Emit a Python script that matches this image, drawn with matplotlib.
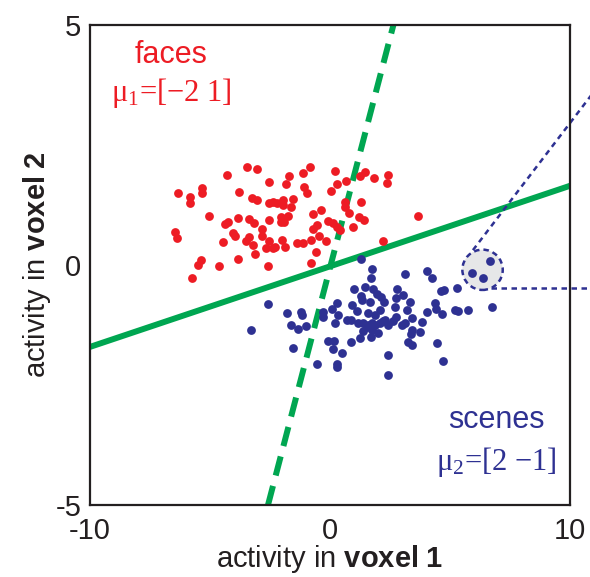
#!/usr/bin/env python

""" Two voxel-activity clusters (faces / scenes) with two candidate
decision boundaries and a projection sketch for one group of points. """

import matplotlib
matplotlib.use("Agg")
import matplotlib.pyplot as plt
from matplotlib.patches import Ellipse


# Faces (red)
faces_x = [-3.43, -3.03, -4.28, -2.54, -5.31, -5.31, -6.32, -5.81, -5.83, -3.79,
           -3.24, -3.02, -2.53, -2.35, -5.01, -4.36, -4.22, -3.81, -3.35, -3.14,
           -2.53, -6.45, -6.35, -4.04, -3.95, -2.82, -2.82, -3.35, -3.50, -4.46,
           -3.18, -2.52, -2.65, -2.35, -3.10, -5.35, -5.50, -3.81, -4.61, -2.58,
           -5.75, -0.81, -1.10, -1.71, 0.23, 1.47, 1.26, 1.84, 2.41, 2.37,
           -1.84, 0.29, 0.69, -1.06, -0.96, 0.05, -2.21, -1.96, -1.94, -1.52,
           -1.60, 0.65, 0.62, 1.30, -0.37, -0.69, 0.80, 1.20, 1.41, 3.66,
           -2.03, -1.75, -2.03, -1.89, -0.06, 0.15, 0.29, 0.42, -0.53, -0.69,
           0.95, -0.44, -0.17, -0.78, -1.10, -1.38, -2.00, -1.86, -2.28, -0.56,
           -0.78, 2.21]
faces_y = [2.04, 1.99, 1.87, 1.72, 1.60, 1.49, 1.50, 1.41, 1.29, 1.53,
           1.40, 1.35, 1.30, 1.32, 1.02, 0.85, 0.90, 0.97, 0.96, 0.88,
           0.94, 0.69, 0.56, 0.66, 0.60, 0.74, 0.60, 0.58, 0.49, 0.47,
           0.42, 0.49, 0.35, 0.35, 0.22, 0.10, -0.01, 0.12, -0.03, -0.03,
           -0.27, 2.04, 1.92, 1.86, 1.96, 1.93, 1.85, 1.81, 1.88, 1.70,
           1.69, 1.69, 1.74, 1.63, 1.49, 1.54, 1.29, 1.35, 1.25, 1.38,
           1.21, 1.32, 1.21, 1.32, 1.15, 1.06, 1.08, 1.00, 0.93, 1.03,
           1.01, 1.03, 0.90, 0.89, 0.92, 0.87, 0.80, 0.73, 0.83, 0.76,
           0.79, 0.60, 0.51, 0.52, 0.46, 0.45, 0.52, 0.38, 0.38, 0.28,
           0.04, 0.51]

# Scenes (blue)
scenes_x = [1.30, 1.74, 3.15, 4.03, 1.71, 1.01, 1.47, 1.81, 1.95, 1.30,
            1.34, 1.67, 0.31, -2.58, 0.94, 1.12, 1.58, 1.88, 0.08, -0.27,
            -0.27, 0.35, -1.20, -1.17, -1.79, 0.70, 0.88, 1.16, 1.39, 1.60,
            1.88, 0.22, -1.63, -0.99, -1.31, -3.29, 1.39, 1.74, 1.99, 1.26,
            1.71, -0.06, 0.17, 0.87, 0.15, 0.50, -1.54, -0.55, 0.31, 0.31,
            4.24, 2.13, 2.81, 2.75, 3.06, 2.27, 3.34, 4.63, 4.75, 5.28,
            5.91, 6.39, 6.67, 4.38, 4.41, 4.06, 4.68, 5.21, 5.35, 5.76,
            6.74, 2.09, 2.70, 3.23, 2.75, 2.64, 3.43, 2.30, 2.09, 2.43,
            2.99, 3.13, 3.82, 3.41, 3.37, 3.75, 3.27, 3.41, 4.45, 2.41,
            4.72, 2.41, 1.74, 1.54, 2.21]
scenes_y = [0.13, -0.09, -0.19, -0.12, -0.28, -0.50, -0.45, -0.51, -0.61, -0.64,
            -0.73, -0.78, -0.80, -0.82, -0.83, -0.96, -0.99, -1.04, -0.92, -0.97,
            -1.09, -1.04, -0.97, -1.04, -1.01, -1.15, -1.15, -1.21, -1.21, -1.24,
            -1.25, -1.21, -1.25, -1.27, -1.33, -1.35, -1.38, -1.35, -1.42, -1.53,
            -1.51, -1.58, -1.58, -1.61, -1.75, -1.84, -1.72, -2.06, -2.06, -2.12,
            -0.28, -0.66, -0.49, -0.68, -0.63, -0.78, -0.78, -0.54, -0.52, -0.47,
            -0.17, -0.28, 0.09, -0.80, -0.92, -0.97, -1.03, -0.94, -0.96, -0.94,
            -0.87, -0.94, -0.88, -0.94, -1.08, -1.17, -1.11, -1.15, -1.21, -1.26,
            -1.24, -1.21, -1.19, -1.35, -1.44, -1.39, -1.60, -1.67, -1.63, -1.88,
            -2.01, -2.29, -1.21, -1.29, -1.17]

# Decision boundaries (end points in data units)
solid_x = [-10, 10]
solid_y = [-1.71, 1.65]
dashed_x = [-2.57, 2.65]
dashed_y = [-5, 5]

# Highlighted group and its projection lines
circle_xy = (6.36, -0.10)
proj_x = [5.96, 11.5]
proj_y = [0.31, 3.94]
horiz_x = [6.7, 11.5]
horiz_y = [-0.485, -0.485]

RED = "#ED1C24"
BLUE = "#2E3192"
GREEN = "#00A651"
INK = "#231F20"


plt.rcParams['font.family'] = ['Liberation Sans', 'DejaVu Sans']
plt.rcParams['mathtext.fontset'] = 'custom'
plt.rcParams['mathtext.rm'] = 'Liberation Serif'
plt.rcParams['mathtext.it'] = 'Liberation Serif'
plt.rcParams['mathtext.bf'] = 'Liberation Sans:bold'

fig = plt.figure(figsize=(5.9, 5.77), dpi=100)
ax = fig.add_axes([0.1517, 0.1248, 0.8144, 0.8319])

ax.scatter(faces_x, faces_y, s=40, color=RED, linewidths=0, zorder=3)
ax.scatter(scenes_x, scenes_y, s=40, color=BLUE, linewidths=0, zorder=3)

ax.plot(solid_x, solid_y, color=GREEN, lw=4.3, solid_capstyle='butt', zorder=2)
ax.plot(dashed_x, dashed_y, color=GREEN, lw=4.3, dashes=(3.3, 1.8), zorder=2)

# grey circle round the three points + dotted projection lines
circ = Ellipse(circle_xy, width=1.68, height=0.84, facecolor="#E6E7E8",
               edgecolor=BLUE, lw=1.8, linestyle=(0, (2.2, 1.6)), zorder=2.5)
ax.add_patch(circ)
ax.plot(proj_x, proj_y, color=BLUE, lw=1.8, dashes=(2.2, 1.8), clip_on=False, zorder=2)
ax.plot(horiz_x, horiz_y, color=BLUE, lw=1.8, dashes=(2.2, 1.8), clip_on=False, zorder=2)

ax.set_xlim(-10, 10)
ax.set_ylim(-5, 5)
ax.set_xticks([-10, 0, 10])
ax.set_xticklabels(['-10', '0', '10'])
ax.set_yticks([-5, 0, 5])
ax.set_yticklabels(['-5', '0', '5'])
ax.tick_params(length=0, labelsize=21, colors=INK)
ax.tick_params(axis='x', pad=9)
ax.tick_params(axis='y', pad=6)
for sp in ax.spines.values():
    sp.set_color(INK)
    sp.set_linewidth(1.6)

ax.set_xlabel(r"activity in $\mathbf{voxel\ 1}$", fontsize=21, color=INK, labelpad=-2)
ax.set_ylabel(r"activity in $\mathbf{voxel\ 2}$", fontsize=21, color=INK, labelpad=2)

ax.text(-6.62, 4.375, "faces", color=RED, fontsize=22, ha='center', va='center')
ax.text(-6.59, 3.58, "μ$_1$=[−2 1]", color=RED, fontsize=22, ha='center',
        va='center', family=['Liberation Serif', 'DejaVu Serif'])
ax.text(6.92, -3.23, "scenes", color=BLUE, fontsize=22, ha='center', va='center')
ax.text(6.92, -4.10, "μ$_2$=[2 −1]", color=BLUE, fontsize=22, ha='center',
        va='center', family=['Liberation Serif', 'DejaVu Serif'])

fig.savefig("out.png", dpi=100)
